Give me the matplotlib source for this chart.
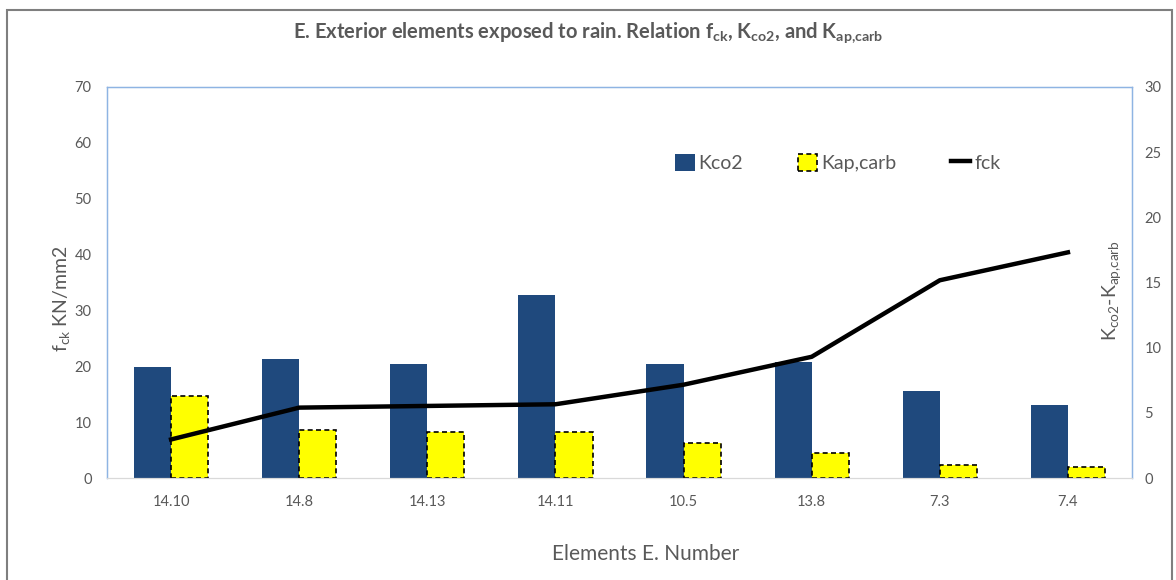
import matplotlib
matplotlib.use("Agg")
import matplotlib.pyplot as plt
from matplotlib.patches import Rectangle
import numpy as np

elements = ["14.10", "14.8", "14.13", "14.11", "10.5", "13.8", "7.3", "7.4"]
kco2 = [8.5, 9.1, 8.75, 14.05, 8.75, 8.9, 6.7, 5.6]
kap_carb = [6.3, 3.7, 3.55, 3.5, 2.7, 1.95, 1.0, 0.82]
fck = [6.9, 12.6, 12.9, 13.2, 16.7, 21.7, 35.4, 40.4]

plt.rcParams["font.family"] = ["Lato", "DejaVu Sans"]
grey = "#595959"

fig = plt.figure(figsize=(11.76, 5.8), dpi=100)
ax = fig.add_axes([107 / 1176, 1 - 478 / 580, 1025 / 1176, 391 / 580])
ax2 = ax.twinx()

x = np.arange(len(elements))
w = 0.29
ax2.bar(x - w / 2, kco2, w, color="#1F497D", label="Kco2", zorder=2)
ax2.bar(x + w / 2, kap_carb, w, color="#FFFF00", edgecolor="black",
        linestyle=(0, (3, 2)), linewidth=1.2, label="Kap,carb", zorder=2)
ax.plot(x, fck, color="black", linewidth=3.2, label="fck", zorder=3)

ax.set_zorder(ax2.get_zorder() + 1)
ax.patch.set_visible(False)

ax.set_xlim(-0.5, len(elements) - 0.5)
ax.set_ylim(0, 70)
ax2.set_ylim(0, 30)
ax.set_yticks(range(0, 71, 10))
ax2.set_yticks(range(0, 31, 5))
ax.set_xticks(x)
ax.set_xticklabels(elements)

for a in (ax, ax2):
    a.tick_params(length=0, colors=grey, labelsize=10.5)
    for s in ("left", "top", "right"):
        a.spines[s].set_color("#8EB4E3")
        a.spines[s].set_linewidth(0.9)
    a.spines["bottom"].set_color("#D9D9D9")
ax.tick_params(axis="y", pad=11)
ax2.tick_params(axis="y", pad=9)
ax.tick_params(axis="x", pad=12)

ax.set_ylabel(r"$\mathregular{f_{ck}}$ KN/mm2", color=grey, fontsize=14)
ax.yaxis.set_label_coords(-0.034, 0.46)
ax2.set_ylabel(r"$\mathregular{K_{co2}}$-$\mathregular{K_{ap{,}carb}}$",
               color=grey, fontsize=14)
ax2.yaxis.set_label_coords(0.969, 0.48)
ax.set_xlabel("Elements E. Number", color=grey, fontsize=15)
ax.xaxis.set_label_coords(0.525, -0.168)

fig.text(0.5, 1 - 33 / 580,
         r"E. Exterior elements exposed to rain. Relation $\mathregular{f_{ck}}$, "
         r"$\mathregular{K_{co2}}$, and $\mathregular{K_{ap{,}carb}}$",
         ha="center", va="center", color=grey, fontsize=14.5, fontweight="bold")

h1, l1 = ax2.get_legend_handles_labels()
h2, l2 = ax.get_legend_handles_labels()
leg = ax.legend(h1 + h2, l1 + l2, loc="center", bbox_to_anchor=(0.713, 0.806),
                ncol=3, frameon=False, fontsize=14, handlelength=1.0,
                handleheight=1.0, handletextpad=0.2, columnspacing=2.8)
for t in leg.get_texts():
    t.set_color(grey)

# outer frame of the chart area
fig.patches.append(Rectangle((7 / 1176, -0.05), 1165 / 1176, 1.05 - 10 / 580,
                             transform=fig.transFigure, fill=False,
                             edgecolor="#7F7F7F", linewidth=1.5))

fig.savefig("out.png", dpi=100)
